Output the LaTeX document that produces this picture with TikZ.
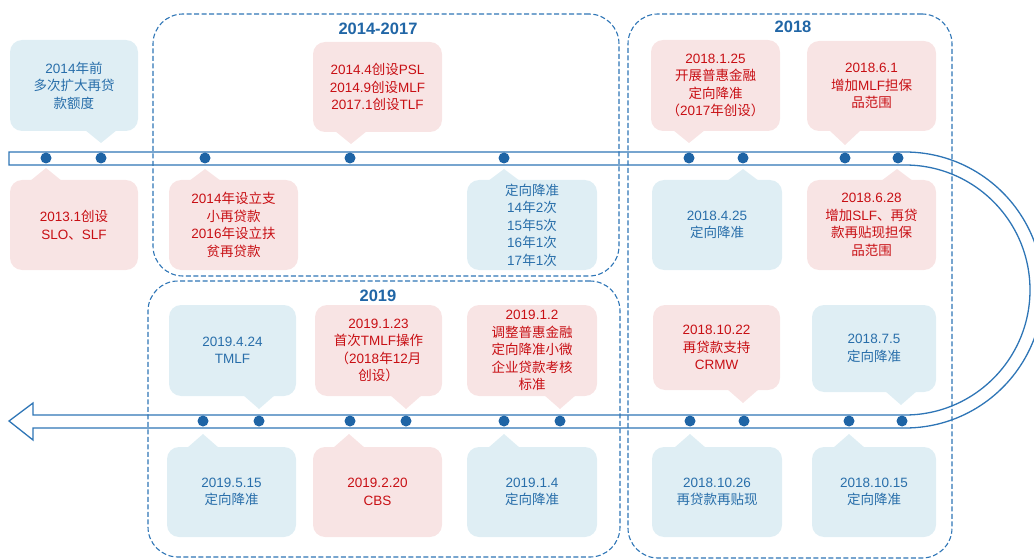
\documentclass[tikz,border=0pt]{standalone}
\usepackage{fontspec}
\setmainfont{Liberation Sans}
\newfontfamily\cjk{Noto Sans CJK SC}
\newcommand\zh[1]{{\cjk #1}}
\definecolor{bfill}{RGB}{223,238,244}
\definecolor{pfill}{RGB}{248,228,228}
\definecolor{btext}{RGB}{40,110,170}
\definecolor{ptext}{RGB}{200,15,20}
\definecolor{tline}{RGB}{46,117,182}
\definecolor{dotc}{RGB}{30,100,165}
\definecolor{ttl}{RGB}{33,102,166}
\newcommand\ptr[4]{\fill[#1] (#2-16,#3) -- (#2,#4) -- (#2+16,#3) -- cycle;}
\tikzset{
  box/.style={rectangle, rounded corners=12pt, inner sep=0pt, align=center,
    font=\fontsize{13.5}{17.5}\selectfont},
  bbox/.style={box, fill=bfill, text=btext},
  pbox/.style={box, fill=pfill, text=ptext},
  grp/.style={draw=tline, dash pattern=on 5pt off 2.5pt, line width=1.1pt,
    rounded corners=30pt, inner sep=0pt},
  dotn/.style={circle, fill=dotc, minimum size=11pt, inner sep=0pt},
  ttlnode/.style={font=\fontsize{16.5}{18}\selectfont\bfseries, text=ttl, inner sep=0pt},
  track/.style={draw=tline, line width=1.3pt, line join=miter},
}
\begin{document}
\begin{tikzpicture}[x=1pt,y=-1pt]
\useasboundingbox (0,0) rectangle (1034,559);
\clip (0,0) rectangle (1034,559);

% track
\draw[track] (9,152) -- (905,152) arc[start angle=-90,end angle=90,radius=138]
  -- (33,428) -- (33,440) -- (9,421) -- (33,403) -- (33,415) -- (905,415)
  arc[start angle=90,end angle=-90,radius=125] -- (9,165) -- cycle;

% group frames
\node[grp, minimum width=466pt, minimum height=262pt] (gA) at (386,145) {};
\node[grp, minimum width=324pt, minimum height=544pt] (gB) at (790,286) {};
\node[grp, minimum width=472pt, minimum height=276pt] (gC) at (384,419) {};
\node[ttlnode] (tA) at (378,29) {2014-2017};
\node[ttlnode] (tB) at (793,27) {2018};
\node[ttlnode] (tC) at (378,296) {2019};

% dots top
\foreach \x [count=\i] in {46,101,205,350,504,689,743,845,898}
  \node[dotn] (td\i) at (\x,158) {};
% dots bottom
\foreach \x [count=\i] in {203,259,350,406,504,560,690,744,849,902}
  \node[dotn] (bd\i) at (\x,421) {};

% top row, above track
\node[bbox, minimum width=128pt, minimum height=91pt] (b1) at (74,85.5)
  {2014\zh{年前}\\\zh{多次扩大再贷}\\\zh{款额度}};
\ptr{bfill}{101}{130}{143}
\node[pbox, minimum width=129pt, minimum height=90pt] (b2) at (377.5,87)
  {2014.4\zh{创设}PSL\\2014.9\zh{创设}MLF\\2017.1\zh{创设}TLF};
\ptr{pfill}{351}{131}{144}
\node[pbox, minimum width=129pt, minimum height=91pt] (b3) at (715.5,85.5)
  {2018.1.25\\\zh{开展普惠金融}\\\zh{定向降准}\\\zh{（}2017\zh{年创设）}};
\ptr{pfill}{689}{130}{143}
\node[pbox, minimum width=129pt, minimum height=90pt] (b4) at (871.5,86)
  {2018.6.1\\\zh{增加}MLF\zh{担保}\\\zh{品范围}};
\ptr{pfill}{845}{130}{145}

% top row, below track
\node[pbox, minimum width=128pt, minimum height=90pt] (b5) at (74,225)
  {2013.1\zh{创设}\\SLO\zh{、}SLF};
\ptr{pfill}{46}{181}{168}
\node[pbox, minimum width=129pt, minimum height=90pt] (b6) at (233.5,225)
  {2014\zh{年设立支}\\\zh{小再贷款}\\2016\zh{年设立扶}\\\zh{贫再贷款}};
\ptr{pfill}{205}{181}{169}
\node[bbox, minimum width=130pt, minimum height=90pt] (b7) at (532,225)
  {\zh{定向降准}\\14\zh{年}2\zh{次}\\15\zh{年}5\zh{次}\\16\zh{年}1\zh{次}\\17\zh{年}1\zh{次}};
\ptr{bfill}{504}{181}{169}
\node[bbox, minimum width=130pt, minimum height=90pt] (b8) at (717,225)
  {2018.4.25\\\zh{定向降准}};
\ptr{bfill}{743}{181}{169}
\node[pbox, minimum width=129pt, minimum height=90pt] (b9) at (871.5,225)
  {2018.6.28\\\zh{增加}SLF\zh{、再贷}\\\zh{款再贴现担保}\\\zh{品范围}};
\ptr{pfill}{897}{181}{169}

% bottom row, above track
\node[bbox, minimum width=127pt, minimum height=91pt] (b10) at (232.5,350.5)
  {2019.4.24\\TMLF};
\ptr{bfill}{259}{395}{409}
\node[pbox, minimum width=127pt, minimum height=91pt] (b11) at (378.5,350.5)
  {2019.1.23\\\zh{首次}TMLF\zh{操作}\\\zh{（}2018\zh{年}12\zh{月}\\\zh{创设）}};
\ptr{pfill}{406}{395}{409}
\node[pbox, minimum width=130pt, minimum height=91pt] (b12) at (532,350.5)
  {2019.1.2\\\zh{调整普惠金融}\\\zh{定向降准小微}\\\zh{企业贷款考核}\\\zh{标准}};
\ptr{pfill}{560}{395}{409}
\node[pbox, minimum width=127pt, minimum height=85pt] (b13) at (716.5,347.5)
  {2018.10.22\\\zh{再贷款支持}\\CRMW};
\ptr{pfill}{743}{389}{403}
\node[bbox, minimum width=124pt, minimum height=87pt] (b14) at (874,348.5)
  {2018.7.5\\\zh{定向降准}};
\ptr{bfill}{901}{391}{405}

% bottom row, below track
\node[bbox, minimum width=129pt, minimum height=90pt] (b15) at (231.5,492)
  {2019.5.15\\\zh{定向降准}};
\ptr{bfill}{203}{448}{434}
\node[pbox, minimum width=129pt, minimum height=90pt] (b16) at (377.5,492)
  {2019.2.20\\CBS};
\ptr{pfill}{349}{448}{434}
\node[bbox, minimum width=130pt, minimum height=90pt] (b17) at (532,492)
  {2019.1.4\\\zh{定向降准}};
\ptr{bfill}{504}{448}{434}
\node[bbox, minimum width=130pt, minimum height=90pt] (b18) at (717,492)
  {2018.10.26\\\zh{再贷款再贴现}};
\ptr{bfill}{690}{448}{434}
\node[bbox, minimum width=124pt, minimum height=90pt] (b19) at (874,492)
  {2018.10.15\\\zh{定向降准}};
\ptr{bfill}{849}{448}{434}
\end{tikzpicture}
\end{document}
